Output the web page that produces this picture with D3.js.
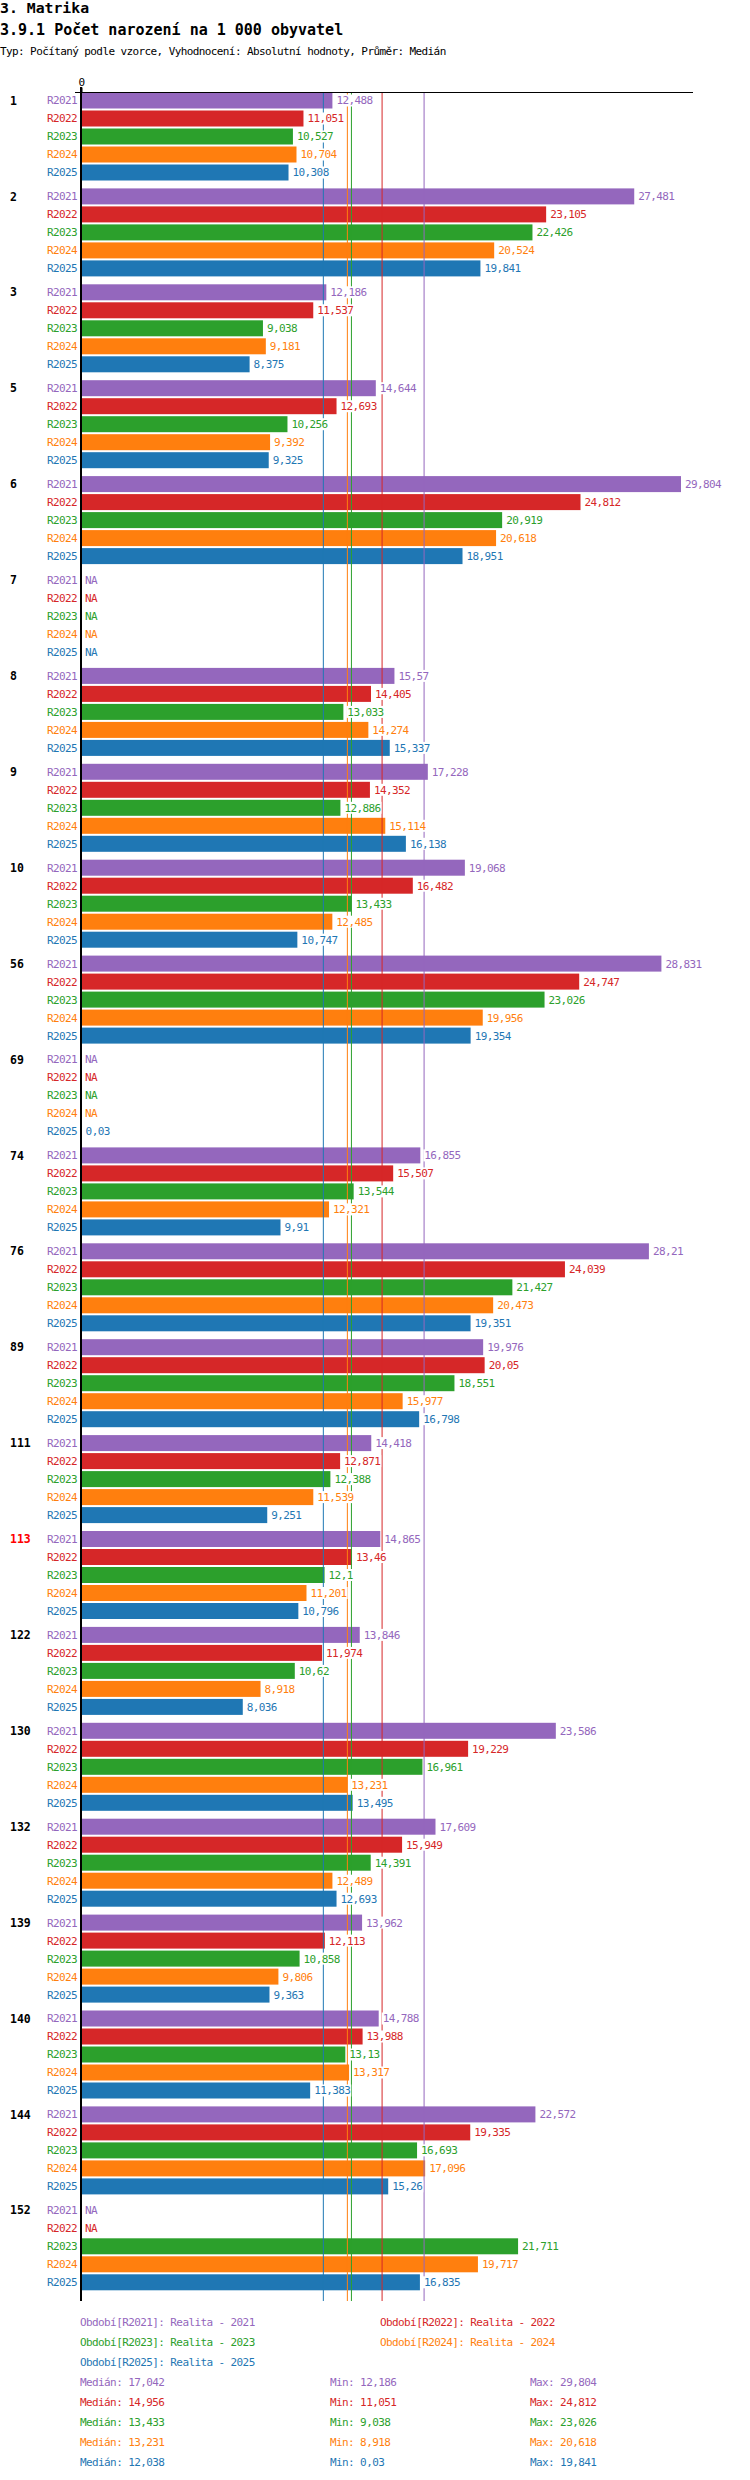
<!DOCTYPE html>
<html>
<head>
<meta charset="utf-8">
<script src="https://cdn.jsdelivr.net/npm/d3@7"></script>
<style>
  html, body { margin: 0; padding: 0; background: #fff; }
  svg { display: block; }
  text { font-family: "DejaVu Sans Mono", "Liberation Mono", monospace; }
  text.sm { font-size: 11px; letter-spacing: -0.6px; }
</style>
</head>
<body>
<svg id="chart" width="750" height="2480"></svg>
<script>
// ---- data ----
const groups = ["1","2","3","5","6","7","8","9","10","56","69","74","76","89","111","113","122","130","132","139","140","144","152"];
const highlightGroup = "113";
const series = ["R2021","R2022","R2023","R2024","R2025"];
const seriesNames = ["Realita - 2021","Realita - 2022","Realita - 2023","Realita - 2024","Realita - 2025"];
const colors = ["#9467bd","#d62728","#2ca02c","#ff7f0e","#1f77b4"];
const r2021 = [12.488,27.481,12.186,14.644,29.804,null,15.57,17.228,19.068,28.831,null,16.855,28.21,19.976,14.418,14.865,13.846,23.586,17.609,13.962,14.788,22.572,null];
const r2022 = [11.051,23.105,11.537,12.693,24.812,null,14.405,14.352,16.482,24.747,null,15.507,24.039,20.05,12.871,13.46,11.974,19.229,15.949,12.113,13.988,19.335,null];
const r2023 = [10.527,22.426,9.038,10.256,20.919,null,13.033,12.886,13.433,23.026,null,13.544,21.427,18.551,12.388,12.1,10.62,16.961,14.391,10.858,13.13,16.693,21.711];
const r2024 = [10.704,20.524,9.181,9.392,20.618,null,14.274,15.114,12.485,19.956,null,12.321,20.473,15.977,11.539,11.201,8.918,13.231,12.489,9.806,13.317,17.096,19.717];
const r2025 = [10.308,19.841,8.375,9.325,18.951,null,15.337,16.138,10.747,19.354,0.03,9.91,19.351,16.798,9.251,10.796,8.036,13.495,12.693,9.363,11.383,15.26,16.835];
const medians = [17.042,14.956,13.433,13.231,12.038];
const mins = [12.186,11.051,9.038,8.918,0.03];
const maxs = [29.804,24.812,23.026,20.618,19.841];
const xTicks = [0];

const title1 = "3. Matrika";
const title2 = "3.9.1 Počet narození na 1 000 obyvatel";
const subtitle = "Typ: Počítaný podle vzorce, Vyhodnocení: Absolutní hodnoty, Průměr: Medián";

(function () {
// ---- build ----
const seriesValues = [r2021, r2022, r2023, r2024, r2025];
const rows = [];
groups.forEach((g, gi) => {
  series.forEach((s, si) => rows.push({g, s, si, v: seriesValues[si][gi]}));
});
const fmt = v => String(v).replace(".", ",");

const svg = d3.select("#chart");
const leftX = 81, rightX = 681, topY = 92.5;
const groupStep = 95.9;

const x = d3.scaleLinear().domain([0, d3.max(seriesValues.flat())]).range([leftX, rightX]);
const y0 = d3.scaleBand().domain(groups).range([topY, topY + groupStep * groups.length]);
const y1 = d3.scaleBand().domain(series).range([0, 88]).paddingInner(2/18);

// titles
svg.append("text").attr("x", 0).attr("y", 13).attr("font-size", 14.8).attr("font-weight", "bold").text(title1);
svg.append("text").attr("x", 0).attr("y", 35).attr("font-size", 15).attr("font-weight", "bold").text(title2);
svg.append("text").attr("class", "sm").attr("x", 0).attr("y", 55).text(subtitle);

const lineBottom = 2301;

// bars
svg.append("g").selectAll("rect").data(rows.filter(d => d.v != null)).join("rect")
  .attr("x", x(0))
  .attr("y", d => y0(d.g) + y1(d.s))
  .attr("width", d => x(d.v) - x(0))
  .attr("height", y1.bandwidth())
  .attr("fill", d => colors[d.si]);

// median lines
svg.append("g").selectAll("line").data(medians).join("line")
  .attr("x1", d => x(d)).attr("x2", d => x(d))
  .attr("y1", topY).attr("y2", lineBottom)
  .attr("stroke", (d, i) => colors[i]).attr("stroke-width", 1);

// top axis
const axis = d3.axisTop(x).tickValues(xTicks).tickSize(5).tickFormat(d => String(d));
const ax = svg.append("g").attr("transform", `translate(0,${topY})`).call(axis);
ax.select(".domain").remove();
ax.selectAll("text").attr("class", "sm").attr("font-family", "DejaVu Sans Mono").attr("fill", "#000").attr("dy", "0.1em");
ax.selectAll(".tick line").attr("stroke", "#000").attr("stroke-width", 2);
svg.append("line").attr("x1", 75).attr("x2", 693).attr("y1", topY).attr("y2", topY).attr("stroke", "#000").attr("stroke-width", 1.2);
svg.append("line").attr("x1", x(0)).attr("x2", x(0)).attr("y1", 87).attr("y2", lineBottom).attr("stroke", "#000").attr("stroke-width", 2);

// value labels with white background
const lab = svg.append("g").selectAll("g").data(rows).join("g")
  .attr("transform", d => `translate(${(d.v == null ? x(0) : x(d.v)) + 4},${y0(d.g) + y1(d.s) + y1.bandwidth() / 2})`);
lab.append("rect").attr("fill", "#fff");
lab.append("text").attr("class", "sm")
  .attr("dy", "0.36em")
  .attr("fill", d => colors[d.si])
  .text(d => d.v == null ? "NA" : fmt(d.v));
lab.each(function() {
  const t = d3.select(this).select("text").node();
  const w = t.getComputedTextLength();
  d3.select(this).select("rect").attr("x", -1).attr("y", -6).attr("width", w + 2).attr("height", 12);
});

// category labels
svg.append("g").selectAll("text").data(rows).join("text").attr("class", "sm")
  .attr("x", 77).attr("y", d => y0(d.g) + y1(d.s) + y1.bandwidth() / 2).attr("dy", "0.36em")
  .attr("text-anchor", "end")
  .attr("fill", d => colors[d.si]).text(d => d.s);

// group labels
svg.append("g").selectAll("text").data(groups).join("text")
  .attr("x", 10).attr("y", d => y0(d) + y1(series[0]) + y1.bandwidth() / 2).attr("dy", "0.36em")
  .attr("font-size", 11.5).attr("font-weight", "bold")
  .attr("fill", d => d === highlightGroup ? "#ff0000" : "#000").text(d => d);

// legend
const legY = 2322, legStep = 20;
svg.append("g").selectAll("text").data(series).join("text").attr("class", "sm")
  .attr("x", (d, i) => i % 2 === 0 ? 80 : 380)
  .attr("y", (d, i) => legY + Math.floor(i / 2) * legStep).attr("dy", "0.36em")
  .attr("fill", (d, i) => colors[i])
  .text((d, i) => `Období[${d}]: ${seriesNames[i]}`);

const statY = legY + 3 * legStep;
const stats = svg.append("g").selectAll("g").data(series).join("g")
  .attr("transform", (d, i) => `translate(0,${statY + i * legStep})`);
stats.append("text").attr("class", "sm").attr("x", 80).attr("dy", "0.36em").attr("fill", (d, i) => colors[i]).text((d, i) => `Medián: ${fmt(medians[i])}`);
stats.append("text").attr("class", "sm").attr("x", 330).attr("dy", "0.36em").attr("fill", (d, i) => colors[i]).text((d, i) => `Min: ${fmt(mins[i])}`);
stats.append("text").attr("class", "sm").attr("x", 530).attr("dy", "0.36em").attr("fill", (d, i) => colors[i]).text((d, i) => `Max: ${fmt(maxs[i])}`);
})();
</script>
</body>
</html>
